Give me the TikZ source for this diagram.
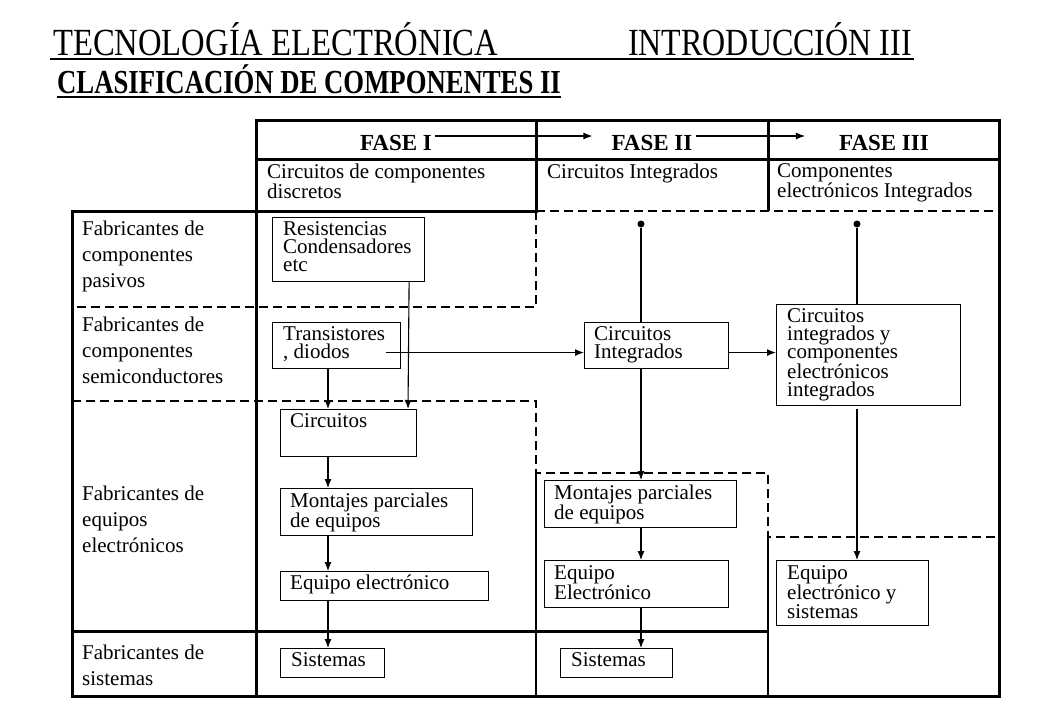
\documentclass[tikz,border=0pt]{standalone}
\usepackage{graphicx}
\usepackage{fontspec}
\setmainfont{Liberation Serif}
\usetikzlibrary{arrows.meta,calc}
\begin{document}
\begin{tikzpicture}[x=1pt,y=-1pt,
  box/.style={draw, line width=1.1pt, anchor=north west, inner sep=0pt},
  txt/.style={inner sep=0pt, align=left, anchor=north west, font=\fontsize{21pt}{18pt}\selectfont},
  lab/.style={inner sep=0pt, align=left, anchor=north west, font=\fontsize{21pt}{26pt}\selectfont},
  fase/.style={inner sep=0pt, anchor=base, font=\bfseries\fontsize{23pt}{23pt}\selectfont},
  tl/.style={line width=3pt},
  ml/.style={line width=2.4pt},
  dsh/.style={line width=2.2pt, dash pattern=on 9pt off 5pt},
  conn/.style={line width=1.1pt},
  arr/.style={line width=1.1pt, -{Latex[length=9pt,width=7pt]}},
  dot/.style={circle, fill, inner sep=0pt, minimum size=7pt}]
\fill[white] (0,0) rectangle (1040,720);
\useasboundingbox (0,0) rectangle (1040,720);

% titles
\node[anchor=base west, inner sep=0pt, font=\fontsize{32pt}{32pt}\selectfont] (t1) at (53,55) {\scalebox{1.02}[1.2]{TECNOLOGÍA ELECTRÓNICA}};
\node[anchor=base west, inner sep=0pt, font=\fontsize{32pt}{32pt}\selectfont] (t2) at (628,55) {\scalebox{1}[1.2]{INTRODUCCIÓN III}};
\draw[line width=2pt] ([shift={(-3,4)}]t1.base west) -- ([shift={(2,4)}]t2.base east);
\node[anchor=base west, inner sep=0pt, font=\bfseries\fontsize{30pt}{30pt}\selectfont] (t3) at (57,93) {\scalebox{0.89}[1.12]{CLASIFICACIÓN DE COMPONENTES II}};
\draw[line width=2.6pt] ([shift={(0,4)}]t3.base west) -- ([shift={(0,4)}]t3.base east);

% table solid lines
\draw[tl, line cap=rect] (256,120) -- (999,120);
\draw[tl] (256,159) -- (999,159);
\draw[tl, line cap=rect] (256,120) -- (256,696);
\draw[tl] (536,120) -- (536,211);
\draw[tl] (768,120) -- (768,211);
\draw[tl, line cap=rect] (999,120) -- (999,696);
\draw[tl, line cap=rect] (72,211) -- (536,211);
\draw[tl, line cap=rect] (72,211) -- (72,696) -- (999,696);
\draw[tl] (72,631) -- (768,631);
\draw[ml] (536,473) -- (536,696);
\draw[ml] (768,537) -- (768,696);
% dashed lines
\draw[dsh] (536,211) -- (999,211);
\draw[dsh] (536,211) -- (536,307) -- (72,307);
\draw[dsh] (72,401) -- (536,401) -- (536,473) -- (768,473) -- (768,537) -- (999,537);

% header
\node[fase] (f1) at (396,150) {FASE I};
\node[fase] (f2) at (652,150) {FASE II};
\node[fase] (f3) at (884,150) {FASE III};
\draw[arr] ([shift={(3,-14)}]f1.base east) -- ([shift={(-19,-14)}]f2.base west);
\draw[arr] ([shift={(3,-14)}]f2.base east) -- ([shift={(-34,-14)}]f3.base west);
\node[txt] (h1) at (267,163.5) {Circuitos de componentes\\discretos};
\node[txt] (h2) at (547,163.5) {Circuitos Integrados};
\node[txt] (h3) at (777,163.5) {Componentes\\electrónicos Integrados};

% row labels
\node[lab] (l1) at (82,220.5) {Fabricantes de\\componentes\\pasivos};
\node[lab] (l2) at (82,316.5) {Fabricantes de\\componentes\\semiconductores};
\node[lab] (l3) at (82,485.5) {Fabricantes de\\equipos\\electrónicos};
\node[lab] (l4) at (82,644.5) {Fabricantes de\\sistemas};

% boxes
\node[box, minimum width=152pt, minimum height=64pt] (res) at (272,217) {};
\node[txt] at ([shift={(11,4)}]res.north west) {Resistencias\\Condensadores\\etc};
\node[box, minimum width=128pt, minimum height=46pt] (tra) at (272,322) {};
\node[txt] at ([shift={(11,4)}]tra.north west) {Transistores\\, diodos};
\node[box, minimum width=144pt, minimum height=46pt] (ci) at (584,322) {};
\node[txt] at ([shift={(10,4)}]ci.north west) {Circuitos\\Integrados};
\node[box, minimum width=184pt, minimum height=101pt] (cib) at (776,304) {};
\node[txt] at ([shift={(11,4)}]cib.north west) {Circuitos\\integrados y\\componentes\\electrónicos\\integrados};
\node[box, minimum width=136pt, minimum height=47pt] (circ) at (280,409) {};
\node[txt] at ([shift={(10,4)}]circ.north west) {Circuitos};
\node[box, minimum width=192pt, minimum height=47pt] (mon1) at (280,488) {};
\node[txt] at ([shift={(10,5)}]mon1.north west) {Montajes parciales\\de equipos};
\node[box, minimum width=208pt, minimum height=29pt] (eq1) at (280,571) {};
\node[txt] at ([shift={(10,4)}]eq1.north west) {Equipo electrónico};
\node[box, minimum width=104pt, minimum height=29pt] (sis1) at (280,648) {};
\node[txt] at ([shift={(11,4)}]sis1.north west) {Sistemas};
\node[box, minimum width=192pt, minimum height=47pt] (mon2) at (544,480) {};
\node[txt] at ([shift={(10,5)}]mon2.north west) {Montajes parciales\\de equipos};
\node[box, minimum width=184pt, minimum height=47pt] (eq2) at (544,560) {};
\node[txt] at ([shift={(10,5)}]eq2.north west) {Equipo\\Electrónico};
\node[box, minimum width=112pt, minimum height=29pt] (sis2) at (560,648) {};
\node[txt] at ([shift={(11,4)}]sis2.north west) {Sistemas};
\node[box, minimum width=152pt, minimum height=65pt] (eqs) at (776,560) {};
\node[txt] at ([shift={(11,5)}]eqs.north west) {Equipo\\electrónico y\\sistemas};

% dots
\node[dot] (d1) at (641,224) {};
\node[dot] (d2) at (857,224) {};

% connectors
\draw[arr] ([shift={(-16,0)}]res.south east) -- ([shift={(128,0)}]circ.north west);
\draw[arr] ([shift={(56,0)}]tra.south west) -- ([shift={(48,0)}]circ.north west);
\draw[arr] ([shift={(48,0)}]circ.south west) -- ([shift={(48,0)}]mon1.north west);
\draw[arr] ([shift={(48,0)}]mon1.south west) -- ([shift={(48,0)}]eq1.north west);
\draw[arr] ([shift={(48,0)}]eq1.south west) -- ([shift={(48,0)}]sis1.north west);
\draw[arr] ([shift={(-15,7)}]tra.east) -- ([shift={(0,7)}]ci.west);
\draw[arr] ([shift={(0,7)}]ci.east) -- ([shift={(0,-2.5)}]cib.west);
\draw[conn] (d1) -- ([shift={(57,0)}]ci.north west);
\draw[arr] ([shift={(57,0)}]ci.south west) -- ([shift={(97,0)}]mon2.north west);
\draw[arr] ([shift={(97,0)}]mon2.south west) -- ([shift={(97,0)}]eq2.north west);
\draw[arr] ([shift={(97,0)}]eq2.south west) -- ([shift={(81,0)}]sis2.north west);
\draw[conn] (d2) -- ([shift={(81,0)}]cib.north west);
\draw[arr] ([shift={(81,3)}]cib.south west) -- ([shift={(81,0)}]eqs.north west);
\end{tikzpicture}
\end{document}
